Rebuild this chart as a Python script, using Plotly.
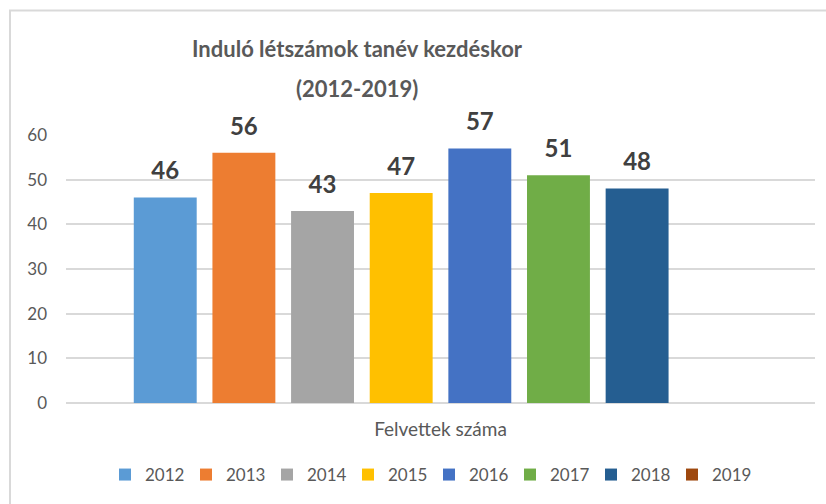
import plotly.graph_objects as go

years = ["2012", "2013", "2014", "2015", "2016", "2017", "2018", "2019"]
values = [46, 56, 43, 47, 57, 51, 48, None]
colors = ["#5B9BD5", "#ED7D31", "#A5A5A5", "#FFC000",
          "#4472C4", "#70AD47", "#255E91", "#9E480E"]
category = ["Felvettek száma"]
title_lines = ["Induló létszámok tanév kezdéskor", "(2012-2019)"]

W, H = 826, 504
ML, MR, MT, MB = 66, 11, 135, 101
pw = W - ML - MR
ph = H - MT - MB
title_font = dict(family="Lato", size=22, color="#595959", weight="bold")

fig = go.Figure()
for year, val, col in zip(years, values, colors):
    fig.add_trace(go.Bar(
        x=category, y=[val], name=year,
        marker=dict(color=col, line=dict(width=0)),
        hoverinfo="name+y",
    ))

# data labels sit a bit higher above the bars than plotly's bar text does,
# so draw them with grouped (invisible-marker) scatter traces
for year, val in zip(years, values):
    fig.add_trace(go.Scatter(
        x=category, y=[val],
        mode="markers+text",
        text=[str(val)] if val is not None else [""],
        textposition="top center",
        textfont=dict(family="Lato", size=24, color="#404040", weight="bold"),
        marker=dict(size=18, opacity=0),
        showlegend=False, hoverinfo="skip", cliponaxis=False,
    ))

# chart frame (Excel-style light border, cropped on right/bottom)
fig.add_shape(type="rect", xref="paper", yref="paper",
              x0=(10 - ML) / pw, x1=1.1,
              y0=-1.0, y1=(H - MB - 10.5) / ph,
              line=dict(color="#D9D9D9", width=2), layer="below")

# second title line (wider line spacing than a <br> would give)
fig.add_annotation(
    text=title_lines[1], showarrow=False,
    xref="paper", x=(357 - ML) / pw, xanchor="center",
    yref="paper", y=(H - MB - 88) / ph, yanchor="middle",
    font=title_font,
)

fig.update_layout(
    width=W, height=H,
    margin=dict(l=ML, r=MR, t=MT, b=MB, autoexpand=False),
    paper_bgcolor="white", plot_bgcolor="white",
    font=dict(family="Lato", color="#595959"),
    title=dict(
        text=title_lines[0],
        x=357 / W, xanchor="center", xref="container",
        y=1 - 49 / H, yanchor="middle", yref="container",
        font=title_font,
    ),
    barmode="group",
    bargap=0.16,
    bargroupgap=0.2,
    scattermode="group",
    scattergap=0.16,
    showlegend=True,
    legend=dict(
        orientation="h",
        xref="container", x=105 / W, xanchor="left",
        yref="container", y=1 - 475 / H, yanchor="middle",
        font=dict(size=17, color="#595959"),
        entrywidth=36,
        itemwidth=30,
        traceorder="normal",
    ),
    xaxis=dict(
        showgrid=False, showline=False, ticks="",
        tickfont=dict(size=19, color="#595959"),
        ticklabelstandoff=13,
        automargin=False,
    ),
    yaxis=dict(
        range=[0, 60], dtick=10,
        showgrid=True, gridcolor="#D9D9D9", gridwidth=1.5,
        zeroline=True, zerolinecolor="#D9D9D9", zerolinewidth=1.5,
        showline=False, ticks="",
        tickfont=dict(size=17, color="#595959"),
        ticklabelstandoff=18,
        automargin=False,
    ),
)

# page body has a default 8px margin; drop it so the figure fills the window
fig.write_html("out.html", config={"displayModeBar": False},
               post_script="document.body.style.margin='0';")
